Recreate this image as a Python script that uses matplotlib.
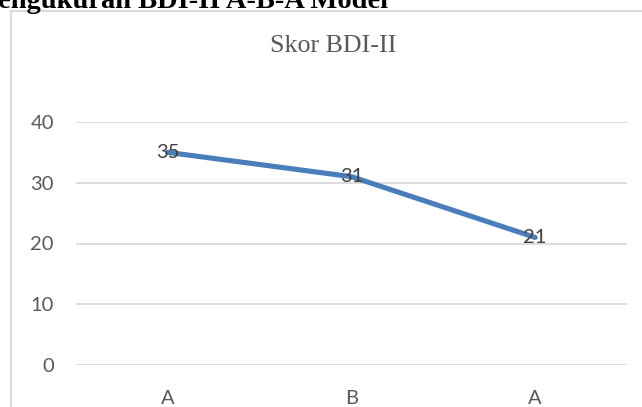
import matplotlib
matplotlib.use('Agg')
import matplotlib.pyplot as plt
import matplotlib.patches as mpatches

# data
phases = ['A', 'B', 'A']
scores = [35, 31, 21]
y_ticks = [0, 10, 20, 30, 40]

W, H = 642, 407
fig = plt.figure(figsize=(W / 100, H / 100), dpi=100)
fig.patch.set_facecolor('white')

# chart frame (runs off the right and bottom of the crop)
frame = mpatches.Rectangle((11 / W, -0.2), 1.2, 1 - 11 / H + 0.2,
                           transform=fig.transFigure, fill=False,
                           edgecolor='#D9D9D9', linewidth=1.5, clip_on=False)
fig.patches.append(frame)

# heading of the document, cut off at the top
fig.text(-0.003, 1 - 8 / H, 'engukuran BDI-II A-B-A Model', fontsize=20.5,
         fontweight='bold', family='Liberation Serif', color='black',
         ha='left', va='baseline')

ax = fig.add_axes([76 / W, 1 - 365 / H, (627 - 76) / W, (365 - 122) / H])
ax.set_xlim(-0.5, len(phases) - 0.5)
ax.set_ylim(0, 40)

x = list(range(len(phases)))
ax.plot(x, scores, color='#4A7EBB', linewidth=3.7, solid_capstyle='round', zorder=3)

for xi, v in zip(x, scores):
    ax.text(xi, v, str(v), ha='center', va='center', fontsize=14.5,
            family='Lato', color='#404040', zorder=4)

ax.set_yticks(y_ticks)
ax.yaxis.grid(True, color='#D9D9D9', linewidth=1.3)
ax.set_axisbelow(True)
ax.set_xticks(x)
ax.set_xticklabels(phases)
ax.tick_params(axis='both', length=0, labelsize=14.5, labelcolor='#595959')
ax.tick_params(axis='y', pad=16)
ax.tick_params(axis='x', pad=18)
for lbl in ax.get_xticklabels() + ax.get_yticklabels():
    lbl.set_family('Lato')
for s in ax.spines.values():
    s.set_visible(False)

fig.text(333 / W, 1 - 46 / H, 'Skor BDI-II', fontsize=18.7,
         family='Liberation Serif', color='#595959', ha='center', va='center')

plt.savefig('out.png', dpi=100, facecolor=fig.get_facecolor())
plt.close()
